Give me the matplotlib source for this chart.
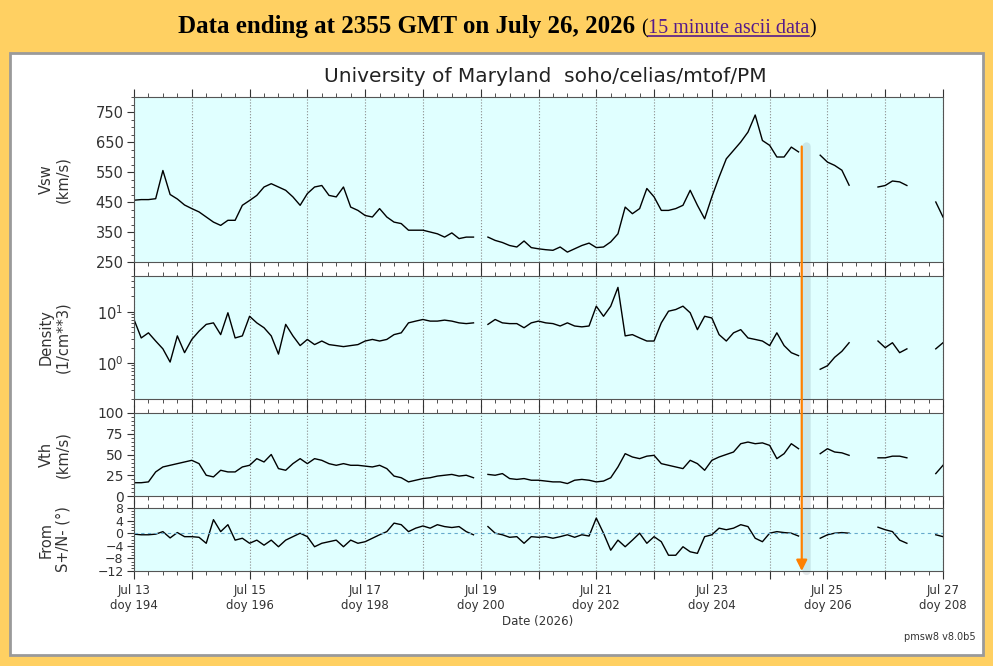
import numpy as np
import pandas as pd
import matplotlib
matplotlib.use('Agg')
import matplotlib.pyplot as plt
import matplotlib.dates as mdates
from matplotlib.patches import Rectangle, ConnectionPatch
from matplotlib.ticker import AutoMinorLocator, FuncFormatter

nan = np.nan

# 3-hourly values, one row per day (Jul 13 .. Jul 26) + Jul 27 00h
vsw = [
    456, 458, 458, 461, 555, 475, 460, 440,
    428, 417, 400, 383, 372, 389, 389, 439,
    455, 472, 500, 511, 500, 489, 467, 439,
    478, 500, 505, 472, 467, 500, 433, 422,
    405, 400, 428, 400, 383, 378, 356, 356,
    356, 350, 344, 333, 347, 328, 333, 333,
    nan, 333, 322, 315, 305, 300, 320, 298,
    294, 291, 289, 300, 283, 294, 305, 313,
    298, 300, 317, 344, 433, 411, 428, 495,
    467, 422, 422, 428, 439, 489, 439, 394,
    467, 533, 594, 622, 650, 683, 740, 655,
    639, 600, 600, 633, 617, nan, nan, 606,
    583, 572, 556, 506, nan, nan, nan, 500,
    505, 520, 517, 505, nan, nan, nan, 450,
    400,
]
density = [
    7.1, 3.1, 3.9, 2.7, 1.9, 1.05, 3.4, 1.6,
    2.9, 4.2, 5.7, 6.1, 3.6, 9.6, 3.1, 3.4,
    8.2, 6.1, 4.9, 3.4, 1.5, 5.7, 3.4, 2.2,
    2.9, 2.3, 2.7, 2.3, 2.2, 2.1, 2.2, 2.3,
    2.7, 2.9, 2.7, 2.9, 3.6, 3.9, 6.1, 6.6,
    7.1, 6.6, 6.6, 6.9, 6.6, 6.1, 5.9, 6.1,
    nan, 5.7, 7.1, 6.1, 5.9, 5.9, 4.9, 6.1,
    6.6, 6.1, 5.9, 5.3, 6.1, 5.3, 5.1, 5.3,
    12.9, 8.2, 12.9, 30.0, 3.4, 3.6, 3.1, 2.7,
    2.7, 6.1, 10.3, 11.1, 12.9, 9.6, 4.5, 8.2,
    7.6, 3.6, 2.7, 3.9, 4.5, 3.1, 2.9, 2.7,
    2.2, 3.9, 2.2, 1.6, 1.4, nan, nan, 0.76,
    0.89, 1.3, 1.7, 2.5, nan, nan, nan, 2.7,
    2.0, 2.5, 1.6, 1.9, nan, nan, nan, 1.9,
    2.5,
]
vth = [
    16, 16, 17, 29, 35, 37, 39, 41,
    43, 39, 25, 23, 31, 29, 29, 35,
    37, 45, 41, 50, 33, 31, 39, 45,
    39, 45, 43, 39, 37, 39, 37, 37,
    36, 35, 37, 33, 24, 22, 17, 19,
    21, 22, 24, 25, 26, 24, 25, 22,
    nan, 26, 25, 27, 21, 20, 21, 19,
    19, 18, 17, 17, 15, 19, 20, 19,
    17, 18, 22, 35, 51, 47, 45, 48,
    49, 39, 37, 35, 33, 43, 39, 31,
    43, 47, 50, 53, 63, 65, 63, 64,
    61, 45, 51, 63, 57, nan, nan, 51,
    57, 53, 52, 49, nan, nan, nan, 46,
    46, 48, 48, 46, nan, nan, nan, 27,
    37,
]
angle = [
    -0.3, -0.5, -0.5, -0.3, 0.5, -1.5, 0.2, -1.1,
    -1.1, -1.3, -3.2, 4.3, 0.5, 2.7, -2.2, -1.6,
    -3.2, -2.2, -3.8, -2.2, -4.3, -2.2, -1.1, 0.0,
    -1.1, -4.3, -3.2, -2.7, -2.2, -4.3, -2.2, -3.2,
    -2.7, -1.6, -0.5, 0.5, 3.2, 2.7, 0.5, 1.6,
    2.3, 1.6, 2.7, 2.1, 1.8, 2.1, 0.5, -0.5,
    nan, 2.1, 0.0, -0.5, -1.3, -1.1, -3.2, -1.1,
    -1.3, -1.1, -1.6, -1.1, -0.5, -1.3, -0.5, -0.9,
    4.8, 0.0, -5.4, -2.2, -4.3, -2.2, 0.0, -3.2,
    -1.1, -2.7, -7.0, -7.0, -4.3, -5.9, -6.4, -1.1,
    -0.5, 1.6, 1.1, 1.6, 2.7, 2.1, -1.6, -2.7,
    0.0, 0.5, 0.2, 0.0, -0.9, nan, nan, -1.6,
    -0.5, 0.0, 0.2, 0.0, nan, nan, nan, 1.9,
    1.1, 0.5, -2.2, -3.2, nan, nan, nan, -0.5,
    -1.1,
]
times = pd.date_range('2026-07-13', periods=len(vsw), freq='3h')
marker_time = pd.Timestamp('2026-07-24 13:20')
marker_vsw = 635

W, H = 993, 666
fig = plt.figure(figsize=(W / 100, H / 100), dpi=100, facecolor='#FFD062')

# white page area with gray border
fig.add_artist(Rectangle((10 / W, 1 - 655 / H), 973 / W, 602 / H, transform=fig.transFigure,
                         facecolor='white', edgecolor='#9a9a9a', lw=2, zorder=-1))

# header line
fig.canvas.draw()
r = fig.canvas.get_renderer()
parts = [('Data ending at 2355 GMT on July 26, 2026 ', 'black', 'bold', 18),
         ('(', 'black', 'normal', 14.5),
         ('15 minute ascii data', '#551A8B', 'normal', 14.5),
         (')', 'black', 'normal', 14.5)]
txts = [fig.text(0, 1 - 33 / H, s, color=c, fontweight=fw, fontsize=fs,
                 family='Liberation Serif', va='baseline') for s, c, fw, fs in parts]
widths = [t.get_window_extent(r).width for t in txts]
x = (W - sum(widths)) / 2
for t, w in zip(txts, widths):
    t.set_x(x / W)
    x += w
bb = txts[2].get_window_extent(r)
fig.add_artist(plt.Line2D([bb.x0 / W, bb.x1 / W], [1 - 36 / H] * 2, color='#551A8B', lw=1.2))

# panels
left, width = 134 / W, 809 / W
rects = [(97, 262), (276, 399), (413, 496), (508, 571)]
axs = [fig.add_axes((left, 1 - b / H, width, (b - t) / H)) for t, b in rects]

series = [vsw, density, vth, angle]
ylabels = ['Vsw\n(km/s)', 'Density\n(1/cm**3)', 'Vth\n(km/s)', 'From\nS+/N- (°)']
ytick_sizes = [10.5, 10.5, 10, 9]


def day_label(x, pos):
    d = mdates.num2date(x)
    if d.day % 2:
        return f"{d:%b} {d.day}\ndoy {d.timetuple().tm_yday}"
    return ''


for i, (ax, y, lab) in enumerate(zip(axs, series, ylabels)):
    ax.set_facecolor('#E0FFFF')
    ax.plot(times, y, color='black', lw=1.0)
    ax.set_xlim(times[0], times[-1])
    ax.xaxis.set_major_locator(mdates.DayLocator())
    ax.xaxis.set_minor_locator(mdates.HourLocator(byhour=[6, 12, 18]))
    ax.xaxis.set_major_formatter(FuncFormatter(day_label))
    ax.grid(True, axis='x', which='major', color='#8a8a8a', ls=':', lw=0.8)
    ax.tick_params(axis='x', which='both', direction='out', top=True, bottom=True,
                   labelbottom=(i == 3), labelsize=8.5, colors='#333333')
    ax.tick_params(axis='x', which='major', length=6)
    ax.tick_params(axis='x', which='minor', length=3)
    ax.tick_params(axis='y', which='major', length=5, labelsize=ytick_sizes[i],
                   colors='#333333', pad=2.5)
    ax.tick_params(axis='y', which='minor', length=2.5, colors='#333333')
    for s in ax.spines.values():
        s.set_color('#555555')
    ax.set_ylabel(lab, fontsize=10.5, color='#333333', linespacing=1.1)
    ax.yaxis.set_label_coords(-0.079, 0.5)

axs[0].set_ylim(250, 800)
axs[0].set_yticks(range(250, 751, 100))
axs[0].yaxis.set_minor_locator(AutoMinorLocator(4))
axs[1].set_yscale('log')
axs[1].set_ylim(0.2, 50)
axs[2].set_ylim(0, 100)
axs[2].set_yticks(range(0, 101, 25))
axs[2].yaxis.set_minor_locator(AutoMinorLocator(5))
axs[3].set_ylim(-12, 8)
axs[3].set_yticks(range(-12, 9, 4))
axs[3].yaxis.set_minor_locator(AutoMinorLocator(4))
axs[3].axhline(0, color='#66AACC', ls='--', lw=0.8, dashes=(3, 3))

fig.text(545 / W, 1 - 77 / H, 'University of Maryland  soho/celias/mtof/PM',
         ha='center', va='center', fontsize=14.5, color='#222222')
fig.text(538 / W, 1 - 622 / H, 'Date (2026)', ha='center', va='center',
         fontsize=8.5, color='#333333')
fig.text(976 / W, 1 - 637 / H, 'pmsw8 v8.0b5', ha='right', va='center',
         fontsize=7, color='#333333')

# orange marker arrow with soft shadow
shadow_time = marker_time + pd.Timedelta(hours=2)
shadow = ConnectionPatch((shadow_time, marker_vsw), (shadow_time, -12),
                         coordsA='data', coordsB='data', axesA=axs[0], axesB=axs[3],
                         color='#305060', lw=6, alpha=0.13, zorder=9)
fig.add_artist(shadow)
arrow = ConnectionPatch((marker_time, marker_vsw), (marker_time, -12),
                        coordsA='data', coordsB='data', axesA=axs[0], axesB=axs[3],
                        arrowstyle='-|>', mutation_scale=16, color='#FF8000', lw=1.6, zorder=10)
fig.add_artist(arrow)

fig.savefig('out.png', dpi=100, facecolor=fig.get_facecolor())
